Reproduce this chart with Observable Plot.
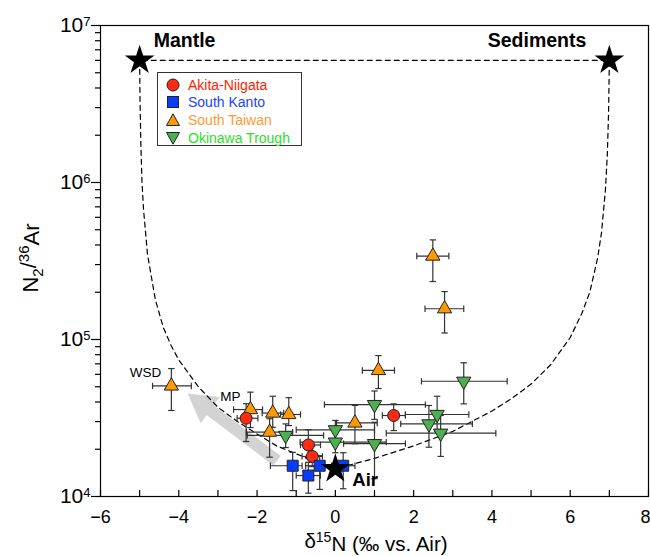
<!DOCTYPE html>
<html><head><meta charset="utf-8">
<script src="https://cdn.jsdelivr.net/npm/d3@7"></script>
<script src="https://cdn.jsdelivr.net/npm/@observablehq/plot@0.6"></script>
<style>
body{margin:0;background:#fff;font-family:"Liberation Sans",Arial,sans-serif;}
#wrap{position:relative;width:650px;height:556px;overflow:hidden;}
#legend{position:absolute;left:157px;top:72px;width:145px;height:74px;border:1.5px solid #333;background:#fff;box-sizing:border-box;padding:3px 0 0 8px;}
#legend .row{display:flex;align-items:center;height:17.6px;font-size:14px;white-space:nowrap;}
#legend svg{margin-right:8px;}
</style></head><body><div id="wrap"></div>
<script>
// ---- data ----
const seriesNames = ["Akita-Niigata", "South Kanto", "South Taiwan", "Okinawa Trough"];

// Akita-Niigata (red circles)
const anX   = [-2.28, -0.69, -0.59, 1.49];
const anXlo = [-2.51, -0.89, -0.85, 1.20];
const anXhi = [-1.98, -0.38, -0.33, 1.79];
const anY   = [3.15e4, 2.13e4, 1.80e4, 3.28e4];
const anYlo = [2.24e4, 1.75e4, 1.55e4, 2.63e4];
const anYhi = [3.90e4, 2.66e4, 2.10e4, 3.89e4];

// South Kanto (blue squares)
const skX   = [-1.09, -0.69, -0.40, 0.20];
const skXlo = [-1.66, -1.00, -0.76, -0.10];
const skXhi = [-0.85, -0.38, 0.00, 0.50];
const skY   = [1.57e4, 1.36e4, 1.57e4, 1.57e4];
const skYlo = [1.09e4, 1.05e4, 1.11e4, 1.12e4];
const skYhi = [1.91e4, 1.65e4, 1.82e4, 1.90e4];

// South Taiwan (orange triangles)
const stX   = [-4.19, -2.17, -1.60, -1.19, -1.68, 0.50, 1.10, 2.49, 2.79];
const stXlo = [-4.67, -2.60, -1.87, -1.40, -2.27, 0.03, 0.69, 2.08, 2.29];
const stXhi = [-3.68, -1.86, -1.32, -0.89, -1.09, 1.07, 1.51, 2.90, 3.28];
const stY   = [5.06e4, 3.58e4, 3.40e4, 3.33e4, 2.57e4, 2.94e4, 6.35e4, 3.40e5, 1.57e5];
const stYlo = [3.53e4, 2.75e4, 2.76e4, 2.83e4, 1.78e4, 2.17e4, 4.87e4, 2.34e5, 1.10e5];
const stYhi = [6.53e4, 4.62e4, 4.35e4, 4.26e4, 3.13e4, 3.80e4, 7.90e4, 4.31e5, 2.02e5];
const stNote = ["WSD", "MP", "", "", "", "", "", "", ""];

// Okinawa Trough (green inverted triangles)
const otX   = [-1.27, 0.00, 0.00, 1.00, 1.00, 2.39, 2.60, 2.69, 3.28];
const otXlo = [-2.25, -1.00, -0.90, -0.28, 0.21, 1.67, 1.79, 1.30, 2.20];
const otXhi = [-0.30, 1.00, 1.30, 2.30, 1.79, 3.50, 3.41, 4.10, 4.39];
const otY   = [2.45e4, 2.66e4, 2.22e4, 3.85e4, 2.17e4, 2.90e4, 3.33e4, 2.53e4, 5.42e4];
const otYlo = [2.05e4, 2.30e4, 1.90e4, 3.10e4, 1.30e4, 2.06e4, 2.60e4, 1.80e4, 3.89e4];
const otYhi = [2.90e4, 3.05e4, 2.60e4, 4.70e4, 2.97e4, 3.80e4, 4.35e4, 3.28e4, 7.11e4];

// end-members
const endName = ["Mantle", "Sediments", "Air"];
const endX = [-5, 7, 0];
const endY = [6.0e6, 6.0e6, 1.5e4];

// dashed mixing envelope
const mixX = [-5, -4.99, -4.97, -4.94, -4.9, -4.8, -4.6, -4.4, -4.2, -4, -3.5, -3, -2.5, -2, -1.5, -1, -0.5, 0,
              0.5, 1, 2, 3, 4, 4.5, 5, 5.5, 6, 6.3, 6.5, 6.7, 6.8, 6.9, 6.95, 6.98, 7, -5];
const mixY = [6.0e6, 3.3e6, 1.8e6, 1.0e6, 6.7e5, 3.5e5, 1.8e5, 1.2e5, 9.2e4, 7.4e4, 5.0e4, 3.7e4, 3.0e4, 2.5e4, 2.1e4, 1.87e4, 1.67e4, 1.5e4,
              1.62e4, 1.75e4, 2.1e4, 2.6e4, 3.5e4, 4.2e4, 5.2e4, 6.9e4, 1.03e5, 1.47e5, 2.0e5, 3.3e5, 4.8e5, 9.0e5, 1.55e6, 2.8e6, 6.0e6, 6.0e6];

// grey trend arrow (tail, head)
const arrowX = [-1.49, -3.39];
const arrowY = [1.69e4, 3.85e4];

// axis ticks
const xTickLabels = [-6, -4, -2, 0, 2, 4, 6, 8];
const xTickMarks = [-6, -5, -4, -3, -2, -1, 0, 1, 2, 3, 4, 5, 6, 7, 8];
const yMajor = [1e4, 1e5, 1e6, 1e7];
const yMinor = [2e4,3e4,4e4,5e4,6e4,7e4,8e4,9e4,2e5,3e5,4e5,5e5,6e5,7e5,8e5,9e5,2e6,3e6,4e6,5e6,6e6,7e6,8e6,9e6];

// ---- build tables ----
function build(name, x, xlo, xhi, y, ylo, yhi, note) {
  return x.map((v, i) => ({series: name, x: v, xlo: xlo[i], xhi: xhi[i], y: y[i], ylo: ylo[i], yhi: yhi[i], note: note ? note[i] : ""}));
}
const an = build(seriesNames[0], anX, anXlo, anXhi, anY, anYlo, anYhi);
const sk = build(seriesNames[1], skX, skXlo, skXhi, skY, skYlo, skYhi);
const st = build(seriesNames[2], stX, stXlo, stXhi, stY, stYlo, stYhi, stNote);
const ot = build(seriesNames[3], otX, otXlo, otXhi, otY, otYlo, otYhi);
const all = [...st, ...ot, ...an, ...sk];
const ends = endName.map((n, i) => ({name: n, x: endX[i], y: endY[i]}));
const mix = mixX.map((v, i) => ({x: v, y: mixY[i]}));
const arrow = [{x1: arrowX[0], y1: arrowY[0], x2: arrowX[1], y2: arrowY[1]}];

const capH = {draw(c, s) { const l = Math.sqrt(s) / 2; c.moveTo(-l, 0); c.lineTo(l, 0); }};
const capV = {draw(c, s) { const l = Math.sqrt(s) / 2; c.moveTo(0, -l); c.lineTo(0, l); }};
const vCaps = all.flatMap(d => [{x: d.x, y: d.ylo}, {x: d.x, y: d.yhi}]);
const hCaps = all.flatMap(d => [{x: d.xlo, y: d.y}, {x: d.xhi, y: d.y}]);

const colors = {red: "#ff2a12", blue: "#0a3cff", orange: "#ff9900", green: "#4caf50"};
const barColor = "#333";

const plot = Plot.plot({
  width: 650, height: 556,
  marginLeft: 100, marginRight: 2, marginTop: 25, marginBottom: 60,
  x: {domain: [-6, 8]},
  y: {type: "log", domain: [1e4, 1e7]},
  style: {fontFamily: "Liberation Sans, Arial, sans-serif", fontSize: "18px", color: "#000", background: "#fff"},
  marks: [
    Plot.link(arrow, {x1: "x1", y1: "y1", x2: "x2", y2: "y2", stroke: "#d3d3d3", strokeWidth: 12}),
    Plot.dot(arrow, {x: "x2", y: "y2", symbol: "triangle", r: 12, fill: "#d3d3d3", rotate: -54}),
    Plot.line(mix, {x: "x", y: "y", stroke: "#000", strokeWidth: 1.2, strokeDasharray: "5,4"}),
    Plot.link(all, {x1: "xlo", x2: "xhi", y1: "y", y2: "y", stroke: barColor, strokeWidth: 1.2}),
    Plot.link(all, {x1: "x", x2: "x", y1: "ylo", y2: "yhi", stroke: barColor, strokeWidth: 1.2}),
    Plot.dot(vCaps, {x: "x", y: "y", symbol: capH, r: 3.6, stroke: barColor, strokeWidth: 1.2, fill: "none"}),
    Plot.dot(hCaps, {x: "x", y: "y", symbol: capV, r: 3.6, stroke: barColor, strokeWidth: 1.2, fill: "none"}),
    Plot.dot(st, {x: "x", y: "y", symbol: "triangle", r: 5.3, fill: colors.orange, stroke: "#222", strokeWidth: 1}),
    Plot.dot(ot, {x: "x", y: "y", symbol: "triangle", r: 5.3, rotate: 180, fill: colors.green, stroke: "#222", strokeWidth: 1}),
    Plot.dot(an, {x: "x", y: "y", symbol: "circle", r: 6, fill: colors.red, stroke: "#222", strokeWidth: 1}),
    Plot.dot(sk, {x: "x", y: "y", symbol: "square", r: 6.2, fill: colors.blue, stroke: "#222", strokeWidth: 1}),
    Plot.text(st, {x: "x", y: "y", text: "note", textAnchor: "end", dx: -10, dy: -13, fontSize: 13.5}),
    Plot.dot(ends, {x: "x", y: "y", symbol: "star", r: 9.3, fill: "#000"}),
    Plot.text(ends.filter(d => d.name === "Mantle"), {x: "x", y: "y", text: "name", textAnchor: "start", dx: 14, dy: -20, fontSize: 19.5, fontWeight: "bold"}),
    Plot.text(ends.filter(d => d.name === "Sediments"), {x: "x", y: "y", text: "name", textAnchor: "end", dx: -23, dy: -20, fontSize: 19.5, fontWeight: "bold"}),
    Plot.text(ends.filter(d => d.name === "Air"), {x: "x", y: "y", text: "name", textAnchor: "start", dx: 17, dy: 11, fontSize: 18.5, fontWeight: "bold"}),
    Plot.frame({stroke: "#000", strokeWidth: 1.2}),
    Plot.tickX(xTickMarks, {x: d => d, insetTop: 465, stroke: "#000", strokeWidth: 1.2}),
    Plot.axisX({ticks: xTickLabels, tickSize: 0, tickPadding: 14, tickFormat: d => d3.format("")(d).replace("-", "\u2212"), label: null, fontSize: 18}),
    Plot.axisY({ticks: yMajor, tickSize: 9, tickPadding: 1, tickFormat: d => "10^" + Math.round(Math.log10(d)), label: null, fontSize: 21, strokeWidth: 1.2}),
    Plot.axisY({ticks: yMinor, tickSize: 5, tickFormat: () => "", label: null, strokeWidth: 1.2})
  ]
});

const wrap = document.getElementById("wrap");
wrap.appendChild(plot);
const svg = d3.select(plot);

// superscript exponents on y tick labels
svg.selectAll('g[aria-label="y-axis tick label"] text').each(function() {
  const t = d3.select(this);
  const s = t.text();
  if (!s.includes("^")) return;
  const [base, exp] = s.split("^");
  t.text(null);
  t.append("tspan").text(base);
  t.append("tspan").attr("dy", "-0.5em").attr("font-size", "13px").text(exp);
});

// keep the last x tick label inside the picture
svg.selectAll('g[aria-label="x-axis tick label"] text').each(function() {
  const t = d3.select(this);
  if (t.text() === "8") t.attr("text-anchor", "end").attr("dx", "2");
});

// axis titles with sub/superscripts
const yt = svg.append("text")
  .attr("transform", "translate(38,258) rotate(-90)")
  .attr("text-anchor", "middle")
  .attr("font-size", "22px").attr("fill", "#000");
yt.append("tspan").text("N");
yt.append("tspan").attr("dy", "0.3em").attr("font-size", "15px").text("2");
yt.append("tspan").attr("dy", "-0.3em").text("/");
yt.append("tspan").attr("dy", "-0.45em").attr("font-size", "15px").text("36");
yt.append("tspan").attr("dy", "0.45em").text("Ar");

const xt = svg.append("text")
  .attr("x", 376).attr("y", 548)
  .attr("text-anchor", "middle")
  .attr("font-size", "20.5px").attr("fill", "#000");
xt.append("tspan").text("\u03b4");
xt.append("tspan").attr("dy", "-0.45em").attr("font-size", "14px").text("15");
xt.append("tspan").attr("dy", "0.45em").text("N (\u2030 vs. Air)");

// legend
const legendItems = [
  {name: seriesNames[0], color: colors.red, text: "#ff2200", shape: "circle"},
  {name: seriesNames[1], color: colors.blue, text: "#1a44ff", shape: "square"},
  {name: seriesNames[2], color: colors.orange, text: "#ff9a33", shape: "up"},
  {name: seriesNames[3], color: colors.green, text: "#2edc2e", shape: "down"}
];
const lg = document.createElement("div");
lg.id = "legend";
for (const it of legendItems) {
  const row = document.createElement("div");
  row.className = "row";
  let shape;
  if (it.shape === "circle") shape = `<circle cx="7" cy="7" r="6" fill="${it.color}" stroke="#222"/>`;
  else if (it.shape === "square") shape = `<rect x="1.5" y="1.5" width="11" height="11" fill="${it.color}" stroke="#222"/>`;
  else if (it.shape === "up") shape = `<path d="M7 0.8 L13.5 12.5 L0.5 12.5 Z" fill="${it.color}" stroke="#222"/>`;
  else shape = `<path d="M7 13.2 L13.5 1.5 L0.5 1.5 Z" fill="${it.color}" stroke="#222"/>`;
  row.innerHTML = `<svg width="14" height="14" viewBox="0 0 14 14">${shape}</svg><span style="color:${it.text}">${it.name}</span>`;
  lg.appendChild(row);
}
wrap.appendChild(lg);
</script></body></html>
